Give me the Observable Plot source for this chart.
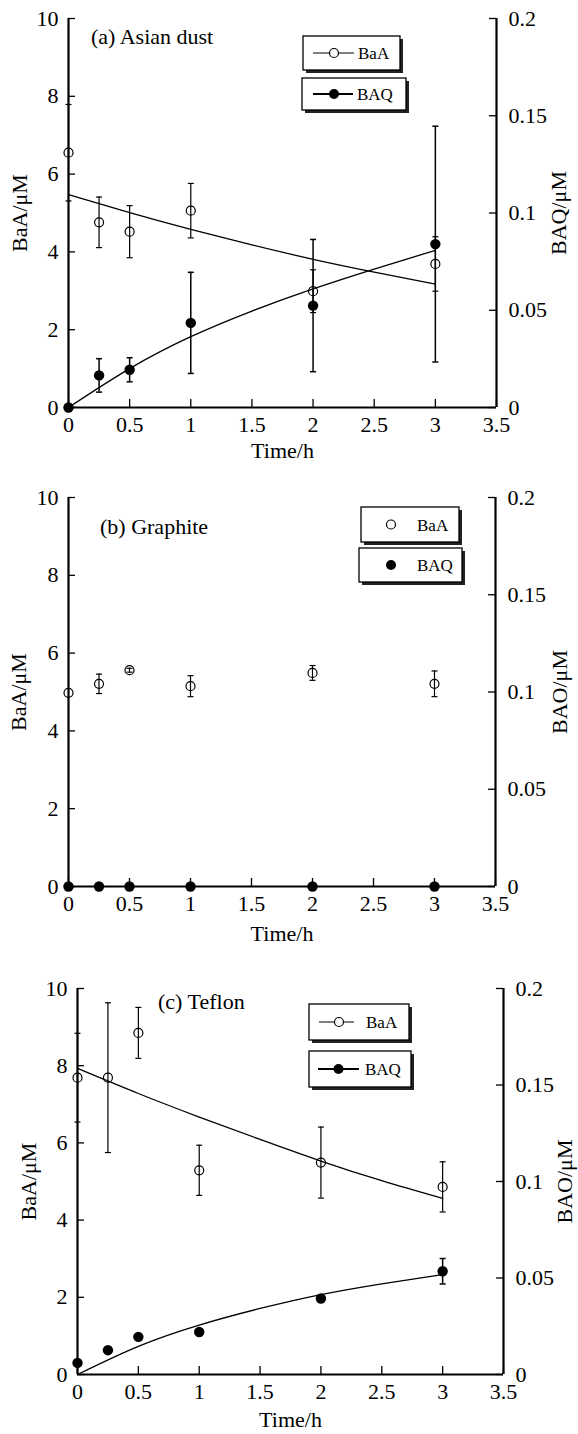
<!DOCTYPE html>
<html><head><meta charset="utf-8">
<script src="https://cdn.jsdelivr.net/npm/d3@7"></script>
<script src="https://cdn.jsdelivr.net/npm/@observablehq/plot@0.6"></script>
<style>
html,body{margin:0;padding:0;background:#fff;}
#root{position:relative;width:578px;height:1434px;overflow:hidden;font-family:"Liberation Serif","Times New Roman",serif;color:#000;}
.panel{position:absolute;left:0;}
.title{position:absolute;font-size:22px;line-height:22px;white-space:nowrap;}
.legend{position:absolute;left:0;top:0;overflow:visible;}
</style></head><body><div id="root"></div>
<script>
// ---- data ----
const times = [0, 0.25, 0.5, 1, 2, 3];
const fitTimes = [0, 0.5, 1, 1.5, 2, 2.5, 3];
const leftTicks = [0, 2, 4, 6, 8, 10];
const rightTicks = [0, 0.05, 0.1, 0.15, 0.2];
const xTicks = [0, 0.5, 1, 1.5, 2, 2.5, 3, 3.5];
const SCALE = 50; // right axis 0–0.2 shares the left axis 0–10

// (a) Asian dust
const aBaA = [6.55, 4.76, 4.52, 5.06, 2.99, 3.69];
const aBaAErr = [1.24, 0.65, 0.67, 0.70, 0.55, 0.70];
const aBAQ = [0, 0.0165, 0.0194, 0.0435, 0.0524, 0.0840];
const aBAQErr = [0, 0.0086, 0.0062, 0.0260, 0.0340, 0.0606];
const aBaAFit = [5.47, 5.01, 4.58, 4.18, 3.81, 3.48, 3.17];
const aBAQFit = [0, 0.0200, 0.0364, 0.0496, 0.0610, 0.0712, 0.0808];

// (b) Graphite
const bBaA = [4.98, 5.21, 5.56, 5.15, 5.49, 5.21];
const bBaAErr = [0, 0.25, 0.05, 0.27, 0.19, 0.33];
const bBAQ = [0, 0, 0, 0, 0, 0];
const bBAQErr = [0, 0, 0, 0, 0, 0];

// (c) Teflon
const cBaA = [7.69, 7.69, 8.85, 5.29, 5.49, 4.86];
const cBaAErr = [1.15, 1.94, 0.66, 0.65, 0.92, 0.65];
const cBAQ = [0.0060, 0.0126, 0.0195, 0.0220, 0.0394, 0.0535];
const cBAQErr = [0, 0, 0, 0, 0, 0.0066];
const cBaAFit = [7.93, 7.28, 6.67, 6.09, 5.53, 5.02, 4.56];
const cBAQFit = [0, 0.0146, 0.0256, 0.0342, 0.0414, 0.0470, 0.0518];

const titles = ["(a) Asian dust", "(b) Graphite", "(c) Teflon"];
const xLabel = "Time/h";
const leftLabel = "BaA/\u03bcM";
const rightLabels = ["BAQ/\u03bcM", "BAO/\u03bcM", "BAO/\u03bcM"];
const seriesNames = ["BaA", "BAQ"];

// ---- drawing ----
const W = 578;
const root = document.getElementById("root");
const capSym = {draw(ctx, size) { const w = Math.sqrt(size / Math.PI); ctx.moveTo(-w, 0); ctx.lineTo(w, 0); }};
const FONT = "\"Liberation Serif\", \"Times New Roman\", serif";

function makePanel(cfg) {
  const rows = times.map((t, i) => ({t, baa: cfg.baa[i], baaErr: cfg.baaErr[i], baq: cfg.baq[i], baqErr: cfg.baqErr[i]}));
  const fit = cfg.baaFit ? fitTimes.map((t, i) => ({t, baa: cfg.baaFit[i], baq: cfg.baqFit[i]})) : [];
  const plotW = W - cfg.ml - cfg.mr;
  const plotH = cfg.height - cfg.mt - cfg.mb;
  const baaE = rows.filter(d => d.baaErr > 0);
  const baqE = rows.filter(d => d.baqErr > 0);
  const marks = [
    // inward tick marks
    Plot.tickY(leftTicks, {y: d => d, insetRight: plotW - 7, strokeWidth: 1.3}),
    Plot.tickY(rightTicks.map(v => v * SCALE), {y: d => d, insetLeft: plotW - 7, strokeWidth: 1.3}),
    Plot.tickX(xTicks, {x: d => d, insetTop: plotH - 8, strokeWidth: 1.3}),
    Plot.axisY(leftTicks, {anchor: "left", tickSize: 0, tickPadding: 10, tickFormat: d => String(d), label: null}),
    Plot.axisY(rightTicks.map(v => v * SCALE), {anchor: "right", tickSize: 0, tickPadding: 12, tickFormat: d => String(+(d / SCALE).toFixed(2)), label: null}),
    Plot.axisX(xTicks, {anchor: "bottom", tickSize: 0, tickPadding: 9, tickFormat: d => String(d), label: null}),
    // error bars
    Plot.ruleX(baaE, {x: "t", y1: d => d.baa - d.baaErr, y2: d => d.baa + d.baaErr, strokeWidth: 1.2}),
    Plot.dot(baaE, {x: "t", y: d => d.baa + d.baaErr, symbol: capSym, r: 3, stroke: "black", fill: "none", strokeWidth: 1.2}),
    Plot.dot(baaE, {x: "t", y: d => d.baa - d.baaErr, symbol: capSym, r: 3, stroke: "black", fill: "none", strokeWidth: 1.2}),
    Plot.ruleX(baqE, {x: "t", y1: d => (d.baq - d.baqErr) * SCALE, y2: d => (d.baq + d.baqErr) * SCALE, strokeWidth: 1.5}),
    Plot.dot(baqE, {x: "t", y: d => (d.baq + d.baqErr) * SCALE, symbol: capSym, r: 3, stroke: "black", fill: "none", strokeWidth: 1.5}),
    Plot.dot(baqE, {x: "t", y: d => (d.baq - d.baqErr) * SCALE, symbol: capSym, r: 3, stroke: "black", fill: "none", strokeWidth: 1.5}),
    // fitted curves
    Plot.line(fit, {x: "t", y: "baa", curve: "natural", strokeWidth: 1.3}),
    Plot.line(fit, {x: "t", y: d => d.baq * SCALE, curve: "natural", strokeWidth: 1.3}),
    // frame lines
    Plot.ruleX([0], {strokeWidth: 2.2}),
    Plot.ruleX([3.5], {strokeWidth: 2.2}),
    Plot.ruleY([0], {strokeWidth: 2.2}),
    // points
    Plot.dot(rows, {x: "t", y: "baa", r: 4.5, stroke: "black", fill: "none", strokeWidth: 1.2}),
    Plot.dot(rows, {x: "t", y: d => d.baq * SCALE, r: 5.2, fill: "black", stroke: "none"}),
    // axis titles
    Plot.text([xLabel], {text: d => d, frameAnchor: "bottom", dy: cfg.xdy, lineAnchor: "middle", textAnchor: "middle"}),
    Plot.text([leftLabel], {text: d => d, frameAnchor: "left", rotate: -90, dx: cfg.ldx, lineAnchor: "middle", textAnchor: "middle"}),
    Plot.text([cfg.rightLabel], {text: d => d, frameAnchor: "right", rotate: -90, dx: cfg.rdx, lineAnchor: "middle", textAnchor: "middle"})
  ];
  const svg = Plot.plot({
    width: W, height: cfg.height,
    marginTop: cfg.mt, marginBottom: cfg.mb, marginLeft: cfg.ml, marginRight: cfg.mr,
    x: {domain: [0, 3.5]},
    y: {domain: [0, 10]},
    style: {fontFamily: FONT, fontSize: "22px", color: "#000", background: "transparent", overflow: "visible"},
    marks
  });
  svg.classList.add("panel");
  svg.style.top = cfg.top + "px";
  svg.style.position = "absolute";
  root.appendChild(svg);

  // title
  const t = document.createElement("div");
  t.className = "title";
  t.textContent = cfg.title;
  t.style.left = cfg.titleX + "px";
  t.style.top = (cfg.titleBase - 18.4) + "px";
  root.appendChild(t);
}

function legendBox(ns, g, b, kind, name) {
  const sh = document.createElementNS(ns, "rect");
  sh.setAttribute("x", b.x + 3); sh.setAttribute("y", b.y + 3); sh.setAttribute("width", b.w); sh.setAttribute("height", b.h); sh.setAttribute("fill", "#222");
  g.appendChild(sh);
  const r = document.createElementNS(ns, "rect");
  r.setAttribute("x", b.x); r.setAttribute("y", b.y); r.setAttribute("width", b.w); r.setAttribute("height", b.h);
  r.setAttribute("fill", "#fff"); r.setAttribute("stroke", "#000"); r.setAttribute("stroke-width", 1.3);
  g.appendChild(r);
  const cy = b.y + b.h / 2;
  if (b.line) {
    const l = document.createElementNS(ns, "line");
    l.setAttribute("x1", b.line[0]); l.setAttribute("x2", b.line[1]); l.setAttribute("y1", cy); l.setAttribute("y2", cy);
    l.setAttribute("stroke", "#000"); l.setAttribute("stroke-width", kind === "open" ? 1.2 : 2);
    g.appendChild(l);
  }
  const c = document.createElementNS(ns, "circle");
  c.setAttribute("cx", b.mx); c.setAttribute("cy", cy);
  if (kind === "open") { c.setAttribute("r", 4.5); c.setAttribute("fill", "#fff"); c.setAttribute("stroke", "#000"); c.setAttribute("stroke-width", 1.2); }
  else { c.setAttribute("r", 5); c.setAttribute("fill", "#000"); }
  g.appendChild(c);
  const tx = document.createElementNS(ns, "text");
  tx.setAttribute("x", b.tx); tx.setAttribute("y", cy + 6);
  tx.setAttribute("font-family", FONT); tx.setAttribute("font-size", 17);
  tx.textContent = name;
  g.appendChild(tx);
}

const panels = [
  {top: 0, height: 470, mt: 18, mb: 63, ml: 68, mr: 82, xdy: 43, ldx: -49, rdx: 62,
   baa: aBaA, baaErr: aBaAErr, baq: aBAQ, baqErr: aBAQErr, baaFit: aBaAFit, baqFit: aBAQFit,
   rightLabel: rightLabels[0], title: titles[0], titleX: 91, titleBase: 44,
   legend: [{x: 303, y: 36, w: 97, h: 34, line: [313, 354], mx: 334, tx: 358},
            {x: 302, y: 78, w: 104, h: 32, line: [313, 353], mx: 334, tx: 357}]},
  {top: 470, height: 480, mt: 27, mb: 64, ml: 68, mr: 83, xdy: 47, ldx: -50, rdx: 64,
   baa: bBaA, baaErr: bBaAErr, baq: bBAQ, baqErr: bBAQErr, baaFit: null, baqFit: null,
   rightLabel: rightLabels[1], title: titles[1], titleX: 100, titleBase: 534,
   legend: [{x: 361, y: 507, w: 98, h: 35, line: null, mx: 391, tx: 417},
            {x: 359, y: 548, w: 103, h: 34, line: null, mx: 391, tx: 417}]},
  {top: 950, height: 484, mt: 38, mb: 60, ml: 77, mr: 75, xdy: 45, ldx: -49, rdx: 61,
   baa: cBaA, baaErr: cBaAErr, baq: cBAQ, baqErr: cBAQErr, baaFit: cBaAFit, baqFit: cBAQFit,
   rightLabel: rightLabels[2], title: titles[2], titleX: 158, titleBase: 1009,
   legend: [{x: 309, y: 1004, w: 100, h: 36, line: [319, 354], mx: 339, tx: 366},
            {x: 309, y: 1051, w: 102, h: 36, line: [318, 359], mx: 338.5, tx: 365}]}
];

panels.forEach(makePanel);

const ns = "http://www.w3.org/2000/svg";
const ov = document.createElementNS(ns, "svg");
ov.setAttribute("width", W); ov.setAttribute("height", 1434);
ov.setAttribute("class", "legend");
ov.style.position = "absolute";
panels.forEach(p => {
  legendBox(ns, ov, p.legend[0], "open", seriesNames[0]);
  legendBox(ns, ov, p.legend[1], "filled", seriesNames[1]);
});
root.appendChild(ov);
</script></body></html>
